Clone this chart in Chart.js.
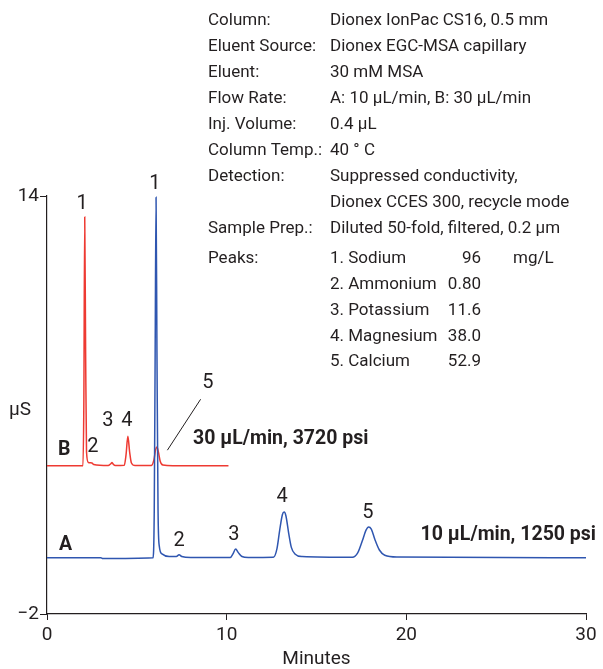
<!DOCTYPE html>
<html>
<head>
<meta charset="utf-8">
<script src="https://cdn.jsdelivr.net/npm/chart.js@4/dist/chart.umd.min.js"></script>
<style>
  body { margin: 0; background: #fff; }
  #wrap { width: 603px; height: 669px; }
</style>
</head>
<body>
<div id="wrap"><canvas id="myChart" width="603" height="669"></canvas></div>
<script>
// trace A, 10 uL/min (minutes, uS)
const timesA = [0, 3.0, 3.1, 5.9, 5.97, 6.02, 6.07, 6.12, 6.18, 6.25, 6.4, 6.8, 7.2, 7.35, 7.5, 8.0,
  10.2, 10.35, 10.5, 10.65, 10.85, 11.2, 12.6, 12.8, 12.95, 13.1, 13.2, 13.3, 13.45, 13.6, 13.8, 14.2,
  17.0, 17.3, 17.55, 17.75, 17.9, 18.05, 18.25, 18.5, 18.8, 19.5, 30];
const valuesA = [0.15, 0.15, 0.12, 0.15, 2.0, 8.0, 13.95, 8.0, 2.0, 0.6, 0.3, 0.2, 0.2, 0.27, 0.2, 0.16,
  0.16, 0.3, 0.49, 0.35, 0.2, 0.16, 0.17, 0.5, 1.2, 1.8, 1.9, 1.75, 1.1, 0.55, 0.3, 0.2,
  0.17, 0.35, 0.8, 1.2, 1.33, 1.25, 0.85, 0.45, 0.25, 0.18, 0.15];

// trace B, 30 uL/min, offset upward
const timesB = [0, 2.0, 2.05, 2.1, 2.15, 2.2, 2.3, 2.5, 2.6, 3.4, 3.55, 3.62, 3.7, 3.8, 4.3, 4.4,
  4.5, 4.6, 4.7, 4.9, 5.8, 5.95, 6.05, 6.12, 6.2, 6.3, 6.45, 7.0, 10.1];
const valuesB = [3.67, 3.67, 6.0, 13.2, 8.0, 4.2, 3.8, 3.78, 3.72, 3.68, 3.75, 3.8, 3.72, 3.68, 3.69, 4.1,
  4.8, 4.2, 3.78, 3.68, 3.68, 3.9, 4.3, 4.39, 4.2, 3.85, 3.7, 3.67, 3.67];

const xTicks = [0, 10, 20, 30];
const yTicks = [-2, 14];

const peakNames = ['1', '2', '3', '4', '5'];
// where the peak numbers sit (minutes, uS)
const labelTimesA = [6.01, 7.35, 10.4, 13.08, 17.86];
const labelValuesA = [14.46, 0.79, 1.02, 2.48, 1.87];
const labelTimesB = [1.95, 2.56, 3.39, 4.45, 8.96];
const labelValuesB = [13.69, 4.39, 5.39, 5.39, 6.84];

const conditions = [
  ['Column:', 'Dionex IonPac CS16, 0.5 mm'],
  ['Eluent Source:', 'Dionex EGC-MSA capillary'],
  ['Eluent:', '30 mM MSA'],
  ['Flow Rate:', 'A: 10 µL/min, B: 30 µL/min'],
  ['Inj. Volume:', '0.4 µL'],
  ['Column Temp.:', '40 ° C'],
  ['Detection:', 'Suppressed conductivity,'],
  ['', 'Dionex CCES 300, recycle mode'],
  ['Sample Prep.:', 'Diluted 50-fold, filtered, 0.2 µm']
];
const analytes = ['1. Sodium', '2. Ammonium', '3. Potassium', '4. Magnesium', '5. Calcium'];
const amounts = ['96', '0.80', '11.6', '38.0', '52.9'];

const FONT = '"Liberation Sans Narrow", "Roboto", sans-serif';
const INK = '#231f20';

const textPlugin = {
  id: 'texts',
  afterDraw(chart) {
    const ctx = chart.ctx;
    const xs = chart.scales.x, ys = chart.scales.y;
    ctx.save();
    ctx.fillStyle = INK;
    ctx.textBaseline = 'middle';

    // peak numbers
    ctx.font = '20px ' + FONT;
    ctx.textAlign = 'center';
    peakNames.forEach((n, i) => {
      ctx.fillText(n, xs.getPixelForValue(labelTimesA[i]), ys.getPixelForValue(labelValuesA[i]));
      ctx.fillText(n, xs.getPixelForValue(labelTimesB[i]), ys.getPixelForValue(labelValuesB[i]));
    });

    // leader line to peak 5 of B
    ctx.strokeStyle = INK;
    ctx.lineWidth = 1;
    ctx.beginPath();
    ctx.moveTo(xs.getPixelForValue(6.7), ys.getPixelForValue(4.27));
    ctx.lineTo(xs.getPixelForValue(8.55), ys.getPixelForValue(6.22));
    ctx.stroke();

    // trace names and run conditions
    ctx.font = 'bold 19.5px ' + FONT;
    ctx.textAlign = 'left';
    ctx.fillText('B', 58, 450);
    ctx.fillText('A', 59, 545);
    ctx.fillText('30 µL/min, 3720 psi', 193, 439);
    ctx.textAlign = 'right';
    ctx.fillText('10 µL/min, 1250 psi', 596, 535);

    // axis titles
    ctx.font = '19px ' + FONT;
    ctx.textAlign = 'left';
    ctx.fillText('µS', 9, 410);
    ctx.textAlign = 'center';
    ctx.fillText('Minutes', xs.getPixelForValue(15), 659);

    // method table
    ctx.font = '17px ' + FONT;
    ctx.textAlign = 'left';
    conditions.forEach((row, i) => {
      const y = 21 + i * 26;
      ctx.fillText(row[0], 208, y);
      ctx.fillText(row[1], 330, y);
    });
    const py = 259;
    ctx.fillText('Peaks:', 208, py);
    analytes.forEach((a, i) => {
      const y = py + i * 25.8;
      ctx.fillText(a, 330, y);
      ctx.textAlign = 'right';
      ctx.fillText(amounts[i], 481, y);
      ctx.textAlign = 'left';
    });
    ctx.fillText('mg/L', 513, py);
    ctx.restore();
  }
};

new Chart(document.getElementById('myChart'), {
  type: 'line',
  data: {
    datasets: [
      {
        label: 'A',
        data: timesA.map((t, i) => ({ x: t, y: valuesA[i] })),
        borderColor: '#2f56b0',
        borderWidth: 1.5,
        pointRadius: 0,
        cubicInterpolationMode: 'monotone',
        fill: false
      },
      {
        label: 'B',
        data: timesB.map((t, i) => ({ x: t, y: valuesB[i] })),
        borderColor: '#ee3a32',
        borderWidth: 1.5,
        pointRadius: 0,
        cubicInterpolationMode: 'monotone',
        fill: false
      }
    ]
  },
  options: {
    responsive: false,
    animation: false,
    layout: { padding: { top: 196, right: 17, bottom: 0, left: 0 } },
    plugins: { legend: { display: false }, tooltip: { enabled: false } },
    scales: {
      x: {
        type: 'linear',
        min: 0,
        max: 30,
        afterBuildTicks: (s) => { s.ticks = xTicks.map(v => ({ value: v })); },
        afterFit: (s) => { s.height = 55; },
        grid: { drawOnChartArea: false, drawTicks: true, tickLength: 6, color: INK },
        border: { color: INK, width: 1.2 },
        ticks: { color: INK, font: { family: FONT, size: 19 }, padding: 4, maxRotation: 0 }
      },
      y: {
        type: 'linear',
        min: -2,
        max: 14,
        afterBuildTicks: (s) => { s.ticks = yTicks.map(v => ({ value: v })); },
        afterFit: (s) => { s.width = 47; },
        grid: { drawOnChartArea: false, drawTicks: true, tickLength: 7, color: INK },
        border: { color: INK, width: 1.2 },
        ticks: {
          color: INK, font: { family: FONT, size: 19 }, padding: 1,
          callback: (v) => (v < 0 ? '\u2212' + Math.abs(v) : String(v))
        }
      }
    }
  },
  plugins: [textPlugin]
});
</script>
</body>
</html>
